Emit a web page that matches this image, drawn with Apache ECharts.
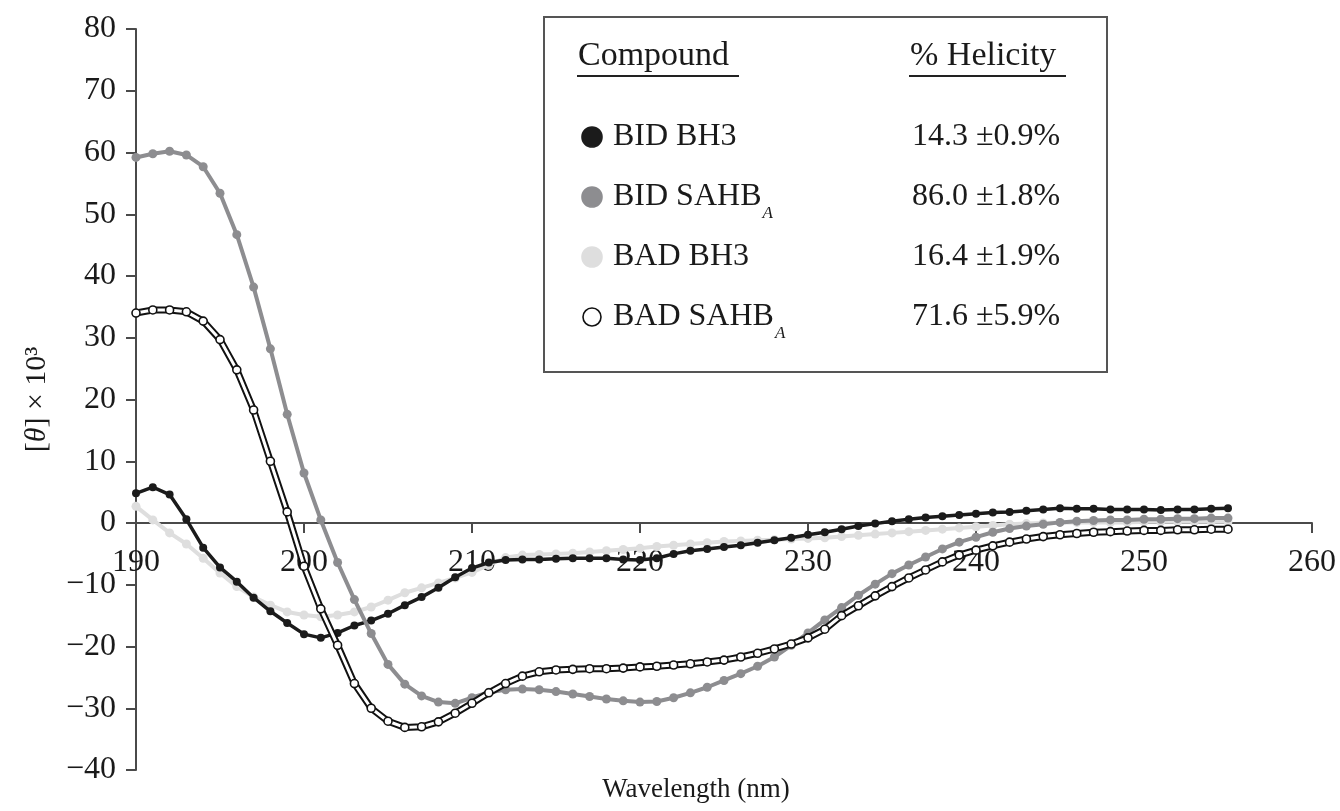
<!DOCTYPE html>
<html>
<head>
<meta charset="utf-8">
<script src="https://cdn.jsdelivr.net/npm/echarts@6/dist/echarts.min.js"></script>
<style>
  html, body { margin: 0; padding: 0; background: #fff; }
  #chart { width: 1340px; height: 811px; }
</style>
</head>
<body>
<div id="chart"></div>
<script>
// wavelength, nm (one reading per nm)
var wavelength = [190,191,192,193,194,195,196,197,198,199,200,201,202,203,204,205,206,207,208,209,
    210,211,212,213,214,215,216,217,218,219,220,221,222,223,224,225,226,227,228,229,
    230,231,232,233,234,235,236,237,238,239,240,241,242,243,244,245,246,247,248,249,
    250,251,252,253,254,255];

// [theta] x 10^3
var bidBH3 = [4.8,5.8,4.6,0.6,-4.0,-7.2,-9.5,-12.1,-14.3,-16.2,-18.0,-18.6,-17.8,-16.6,-15.8,-14.7,-13.3,-12.0,-10.5,-8.8,
    -7.3,-6.4,-6.0,-5.9,-5.9,-5.8,-5.7,-5.7,-5.7,-5.9,-6.0,-5.7,-5.0,-4.5,-4.2,-3.9,-3.6,-3.2,-2.8,-2.4,
    -1.9,-1.5,-1.0,-0.5,-0.1,0.3,0.6,0.9,1.1,1.3,1.5,1.7,1.8,2.0,2.2,2.4,2.3,2.3,2.2,2.2,
    2.2,2.1,2.2,2.2,2.3,2.4];
var bidSAHB = [59.2,59.8,60.2,59.6,57.7,53.4,46.7,38.2,28.2,17.6,8.1,0.5,-6.4,-12.4,-17.9,-22.9,-26.1,-28.0,-29.0,-29.2,
    -28.3,-27.4,-27.0,-26.9,-27.0,-27.3,-27.7,-28.1,-28.5,-28.8,-29.0,-28.9,-28.3,-27.5,-26.6,-25.5,-24.4,-23.2,-21.7,-19.8,
    -17.8,-15.7,-13.7,-11.7,-9.9,-8.2,-6.8,-5.5,-4.2,-3.1,-2.3,-1.5,-0.9,-0.5,-0.2,0.1,0.3,0.4,0.5,0.5,
    0.6,0.6,0.7,0.7,0.8,0.8];
var badBH3 = [2.7,0.5,-1.6,-3.4,-5.7,-8.1,-10.3,-12.0,-13.3,-14.4,-14.9,-15.2,-14.9,-14.4,-13.6,-12.5,-11.3,-10.5,-9.7,-8.9,
    -8.0,-6.8,-5.6,-5.2,-5.1,-5.0,-4.9,-4.7,-4.5,-4.3,-4.1,-3.8,-3.6,-3.4,-3.2,-3.0,-2.9,-2.8,-2.7,-2.6,
    -2.5,-2.4,-2.2,-2.0,-1.8,-1.6,-1.4,-1.2,-1.0,-0.8,-0.6,-0.4,-0.2,-0.1,0.0,0.1,0.1,0.1,0.1,0.1,
    0.2,0.2,0.2,0.2,0.2,0.2];
var badSAHB = [34.0,34.5,34.5,34.2,32.7,29.7,24.8,18.3,10.0,1.8,-7.0,-13.9,-19.8,-26.0,-30.0,-32.1,-33.1,-33.0,-32.2,-30.8,
    -29.2,-27.5,-26.0,-24.8,-24.1,-23.8,-23.7,-23.6,-23.6,-23.5,-23.3,-23.2,-23.0,-22.8,-22.5,-22.2,-21.7,-21.1,-20.4,-19.6,
    -18.6,-17.2,-15.0,-13.4,-11.8,-10.3,-8.9,-7.6,-6.3,-5.2,-4.4,-3.7,-3.1,-2.6,-2.2,-1.9,-1.7,-1.5,-1.4,-1.3,
    -1.2,-1.2,-1.1,-1.1,-1.0,-1.0];

var compounds = ['BID BH3', 'BID SAHB', 'BAD BH3', 'BAD SAHB'];
var helicity = ['14.3 \u00b10.9%', '86.0 \u00b11.8%', '16.4 \u00b11.9%', '71.6 \u00b15.9%'];
var subA = [false, true, false, true];

var FONT = '"Liberation Serif", "DejaVu Serif", serif';
var AXIS = '#4a4a4a';
var colBlack = '#1b1b1b', colGray = '#8d8d90', colLight = '#dedede';

var GRID = {left: 136, right: 28, top: 29, bottom: 41};
var Y_MIN = -40, Y_MAX = 80;

function pairs(ys) {
    var out = [];
    for (var i = 0; i < ys.length; i++) {
        out.push([wavelength[i], ys[i]]);
    }
    return out;
}

function minus(v) {
    return String(v).replace('-', '\u2212');
}

function textWidth(str, font) {
    var ctx = document.createElement('canvas').getContext('2d');
    ctx.font = font;
    return ctx.measureText(str).width;
}

// legend table drawn by hand (header + 4 rows)
function legendGraphic() {
    var g = [];
    var rowFont = '32px ' + FONT, headFont = '34px ' + FONT;
    var rowY = [137, 197, 257, 317];
    var swatch = [
        {fill: colBlack, stroke: colBlack},
        {fill: colGray, stroke: colGray},
        {fill: colLight, stroke: colLight},
        {fill: '#fff', stroke: '#111'}
    ];
    g.push({type: 'rect', shape: {x: 544, y: 17, width: 563, height: 355},
        style: {fill: '#fff', stroke: '#555', lineWidth: 2}, z: 10});
    g.push({type: 'text', x: 578, y: 56, z: 11,
        style: {text: 'Compound', font: headFont, fill: '#1a1a1a', verticalAlign: 'middle'}});
    g.push({type: 'line', shape: {x1: 577, y1: 76, x2: 739, y2: 76}, style: {stroke: '#222', lineWidth: 2}, z: 11});
    g.push({type: 'text', x: 910, y: 56, z: 11,
        style: {text: '% Helicity', font: headFont, fill: '#1a1a1a', verticalAlign: 'middle'}});
    g.push({type: 'line', shape: {x1: 909, y1: 76, x2: 1066, y2: 76}, style: {stroke: '#222', lineWidth: 2}, z: 11});
    for (var i = 0; i < compounds.length; i++) {
        var s = swatch[i];
        g.push({type: 'circle', shape: {cx: 592, cy: rowY[i], r: i === 3 ? 9 : 10},
            style: {fill: s.fill, stroke: s.stroke, lineWidth: 1.6}, z: 11});
        g.push({type: 'text', x: 613, y: rowY[i], z: 11,
            style: {text: compounds[i], font: rowFont, fill: '#1a1a1a', verticalAlign: 'middle'}});
        if (subA[i]) {
            g.push({type: 'text', x: 613 + textWidth(compounds[i], rowFont) + 1, y: rowY[i] + 17, z: 11,
                style: {text: 'A', font: 'italic 17px ' + FONT, fill: '#1a1a1a', verticalAlign: 'middle'}});
        }
        g.push({type: 'text', x: 912, y: rowY[i], z: 11,
            style: {text: helicity[i], font: rowFont, fill: '#1a1a1a', verticalAlign: 'middle'}});
    }
    // x axis title
    g.push({type: 'text', x: 696, y: 790, z: 11,
        style: {text: 'Wavelength (nm)', font: '27px ' + FONT, fill: '#1a1a1a', align: 'center', verticalAlign: 'middle'}});
    return g;
}

var chart = echarts.init(document.getElementById('chart'), null, {renderer: 'canvas'});

// x axis sits on y = 0: shift it up from the grid bottom by the y=0 distance
var plotH = 811 - GRID.top - GRID.bottom;
var zeroOffset = -plotH * (0 - Y_MIN) / (Y_MAX - Y_MIN);

var option = {
    animation: false,
    backgroundColor: '#fff',
    grid: GRID,
    xAxis: {
        type: 'value', min: 190, max: 260, interval: 10,
        offset: zeroOffset,
        axisLine: {onZero: false, lineStyle: {color: AXIS, width: 2}},
        axisTick: {length: 10, lineStyle: {color: AXIS, width: 2}},
        axisLabel: {margin: 24, fontFamily: FONT, fontSize: 32, color: '#1a1a1a', showMinLabel: true, showMaxLabel: true},
        splitLine: {show: false}
    },
    yAxis: {
        type: 'value', min: Y_MIN, max: Y_MAX, interval: 10,
        axisLine: {show: true, onZero: false, lineStyle: {color: AXIS, width: 2}},
        axisTick: {show: true, length: 10, lineStyle: {color: AXIS, width: 2}},
        axisLabel: {margin: 20, fontFamily: FONT, fontSize: 32, color: '#1a1a1a', formatter: minus},
        splitLine: {show: false},
        name: '[{i|\u03b8}] \u00d7 10\u00b3',
        nameLocation: 'middle',
        nameRotate: 90,
        nameGap: 84,
        nameTextStyle: {fontFamily: FONT, fontSize: 30, color: '#1a1a1a',
            rich: {i: {fontFamily: FONT, fontSize: 30, fontStyle: 'italic', color: '#1a1a1a'}}}
    },
    series: [
        {
            name: 'BAD BH3', type: 'line', data: pairs(badBH3), z: 2,
            symbol: 'circle', symbolSize: 9, showAllSymbol: true,
            lineStyle: {color: colLight, width: 4},
            itemStyle: {color: colLight}
        },
        {
            name: 'BID BH3', type: 'line', data: pairs(bidBH3), z: 3,
            symbol: 'circle', symbolSize: 8, showAllSymbol: true,
            lineStyle: {color: colBlack, width: 3.5},
            itemStyle: {color: colBlack}
        },
        {
            name: 'BID SAHB', type: 'line', data: pairs(bidSAHB), z: 4,
            symbol: 'circle', symbolSize: 9, showAllSymbol: true,
            lineStyle: {color: colGray, width: 4},
            itemStyle: {color: colGray}
        },
        // BAD SAHB: hollow tube = thick black line under a white one
        {
            name: 'BAD SAHB outline', type: 'line', data: pairs(badSAHB), z: 5,
            symbol: 'none',
            lineStyle: {color: '#111', width: 7}
        },
        {
            name: 'BAD SAHB', type: 'line', data: pairs(badSAHB), z: 6,
            symbol: 'circle', symbolSize: 8, showAllSymbol: true,
            lineStyle: {color: '#fff', width: 3},
            itemStyle: {color: '#fff', borderColor: '#111', borderWidth: 1.6}
        }
    ],
    graphic: legendGraphic()
};

chart.setOption(option);
</script>
</body>
</html>
